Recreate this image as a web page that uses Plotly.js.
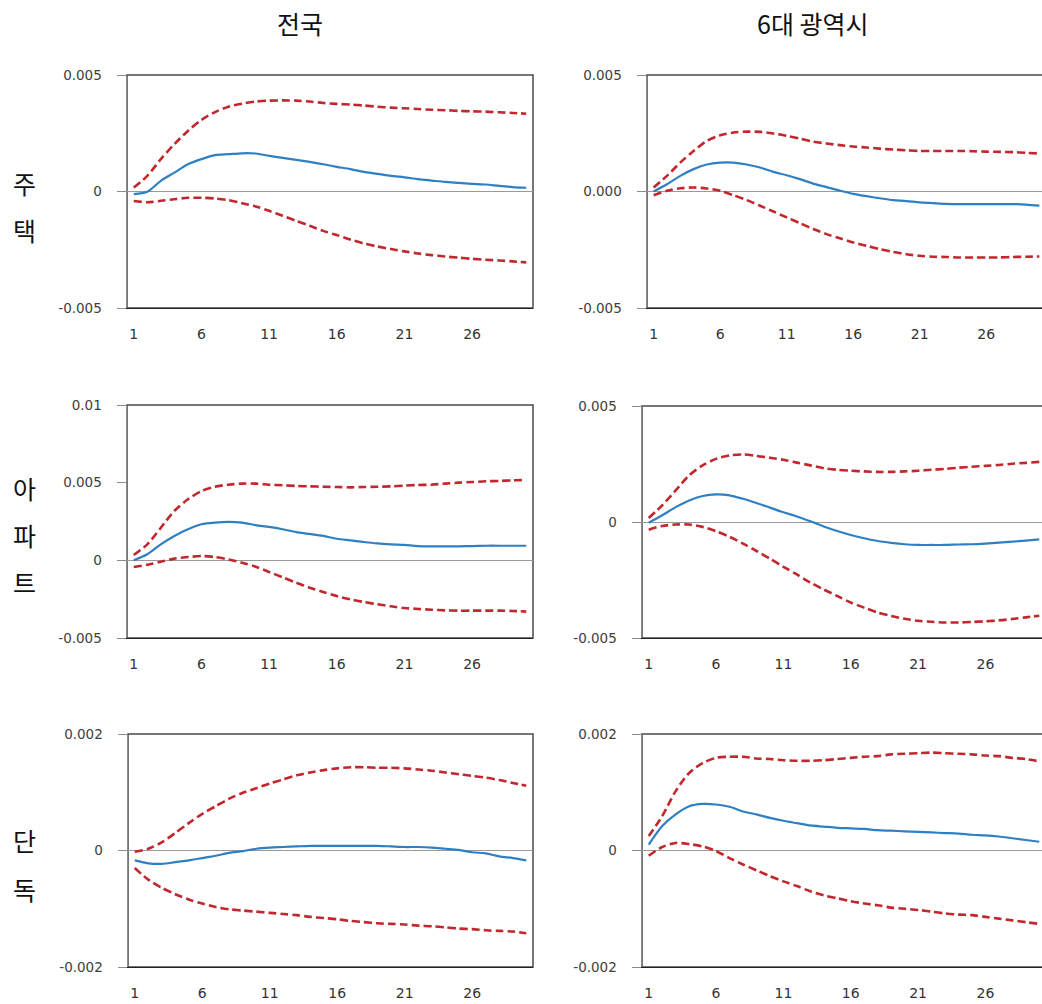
<!DOCTYPE html>
<html>
<head>
<meta charset="utf-8">
<script src="https://cdn.plot.ly/plotly-3.0.1.min.js"></script>
<style>
html,body{margin:0;padding:0;overflow:hidden;background:#fff;}
#chart{width:1048px;height:1004px;}
</style>
</head>
<body>
<div id="chart"></div>
<script>
// ---------- data ----------
const periods = [1,2,3,4,5,6,7,8,9,10,11,12,13,14,15,16,17,18,19,20,21,22,23,24,25,26,27,28,29,30];
const columnTitles = ['전국', '6대 광역시'];
const rowTitles = ['주택', '아파트', '단독'];
const xTickVals = [1, 6, 11, 16, 21, 26];
const xTickText = ['1', '6', '11', '16', '21', '26'];

// 전국 - 주택
const nationHouseUpper = [0.00017,0.00067,0.00139,0.00203,0.0026,0.00307,0.00341,0.00364,0.00377,0.00386,0.0039,0.00391,0.0039,0.00386,0.0038,0.00376,0.00373,0.00369,0.00364,0.0036,0.00357,0.00354,0.00351,0.00349,0.00346,0.00344,0.00343,0.0034,0.00337,0.00334];
const nationHouseMid = [-0.00011,-0.00001,0.00046,0.00081,0.00117,0.00139,0.00156,0.0016,0.00164,0.00163,0.00153,0.00144,0.00136,0.00127,0.00117,0.00106,0.00096,0.00084,0.00076,0.00067,0.00061,0.00053,0.00047,0.00041,0.00037,0.00033,0.0003,0.00024,0.00019,0.00016];
const nationHouseLower = [-0.00041,-0.00046,-0.0004,-0.00033,-0.00027,-0.00027,-0.0003,-0.00037,-0.0005,-0.00064,-0.00083,-0.00104,-0.00126,-0.00147,-0.00169,-0.00187,-0.00206,-0.00223,-0.00236,-0.00247,-0.00257,-0.00266,-0.00273,-0.00279,-0.00284,-0.00289,-0.00293,-0.00296,-0.003,-0.00304];

// 6대 광역시 - 주택
const metroHouseUpper = [0.00017,0.00067,0.00124,0.00174,0.00217,0.00241,0.00253,0.00257,0.00256,0.00249,0.00239,0.00227,0.00214,0.00206,0.00199,0.00193,0.00189,0.00184,0.0018,0.00177,0.00174,0.00174,0.00174,0.00174,0.00173,0.00171,0.0017,0.00169,0.00166,0.00163];
const metroHouseMid = [0,0.00031,0.00067,0.00096,0.00116,0.00124,0.00124,0.00116,0.00103,0.00084,0.0007,0.00053,0.00034,0.00019,0.00004,-0.0001,-0.0002,-0.00029,-0.00037,-0.00041,-0.00047,-0.0005,-0.00053,-0.00054,-0.00054,-0.00054,-0.00054,-0.00054,-0.00056,-0.00061];
const metroHouseLower = [-0.00016,0.00003,0.00014,0.00017,0.00013,0.00003,-0.00016,-0.00037,-0.00061,-0.00086,-0.00111,-0.00136,-0.00161,-0.00183,-0.00201,-0.00219,-0.00233,-0.00247,-0.00259,-0.00269,-0.00276,-0.0028,-0.00281,-0.00283,-0.00283,-0.00283,-0.00283,-0.00281,-0.0028,-0.00279];

// 전국 - 아파트
const nationAptUpper = [0.00034,0.00103,0.0021,0.00318,0.00393,0.00446,0.00474,0.00487,0.00494,0.00494,0.00487,0.00483,0.00479,0.00476,0.00474,0.00472,0.0047,0.00472,0.00474,0.00476,0.00481,0.00485,0.00487,0.00494,0.005,0.00504,0.00509,0.00511,0.00515,0.00517];
const nationAptMid = [0,0.00039,0.00103,0.00157,0.002,0.00232,0.00243,0.00247,0.00243,0.00227,0.00215,0.002,0.00182,0.0017,0.00157,0.00139,0.00129,0.00118,0.00109,0.00103,0.00099,0.00092,0.0009,0.0009,0.0009,0.00092,0.00094,0.00094,0.00094,0.00094];
const nationAptLower = [-0.00043,-0.00028,-0.00009,0.00011,0.00021,0.00028,0.00021,0.00006,-0.00015,-0.00041,-0.00075,-0.00109,-0.00144,-0.00176,-0.00204,-0.0023,-0.00251,-0.00268,-0.00283,-0.00296,-0.00307,-0.00313,-0.00318,-0.00322,-0.00324,-0.00324,-0.00324,-0.00324,-0.00326,-0.0033];

// 6대 광역시 - 아파트
const metroAptUpper = [0.00017,0.00072,0.00136,0.00201,0.00244,0.00272,0.00287,0.00291,0.00285,0.00277,0.00268,0.00256,0.00244,0.00232,0.00225,0.00221,0.00218,0.00216,0.00216,0.00218,0.00221,0.00225,0.00229,0.00234,0.00238,0.00242,0.00246,0.00251,0.00255,0.00259];
const metroAptMid = [-0.00003,0.00029,0.00064,0.00093,0.00112,0.00119,0.00115,0.001,0.00082,0.00062,0.00042,0.00024,0.00003,-0.00019,-0.00039,-0.00056,-0.0007,-0.00082,-0.0009,-0.00096,-0.00099,-0.00099,-0.00099,-0.00097,-0.00096,-0.00093,-0.00089,-0.00085,-0.0008,-0.00075];
const metroAptLower = [-0.00033,-0.00017,-0.00011,-0.00011,-0.00021,-0.0004,-0.00064,-0.00093,-0.00125,-0.00158,-0.00193,-0.00226,-0.00261,-0.00291,-0.00319,-0.00347,-0.00369,-0.0039,-0.00405,-0.00417,-0.00426,-0.0043,-0.00433,-0.00433,-0.00431,-0.00428,-0.00424,-0.00418,-0.00411,-0.00404];

// 전국 - 단독
const nationDetUpper = [-0.00002,0.00003,0.00014,0.0003,0.00047,0.00063,0.00076,0.00089,0.00099,0.00107,0.00115,0.00122,0.00129,0.00134,0.00138,0.00141,0.00143,0.00143,0.00142,0.00142,0.00141,0.00139,0.00137,0.00134,0.00131,0.00128,0.00125,0.00121,0.00116,0.00111];
const nationDetMid = [-0.00017,-0.00022,-0.00023,-0.0002,-0.00017,-0.00013,-0.00009,-0.00004,-0.00001,0.00003,0.00005,0.00006,0.00007,0.00008,0.00008,0.00008,0.00008,0.00008,0.00008,0.00007,0.00006,0.00006,0.00005,0.00003,0.00001,-0.00003,-0.00005,-0.0001,-0.00013,-0.00017];
const nationDetLower = [-0.0003,-0.0005,-0.00064,-0.00075,-0.00084,-0.00091,-0.00097,-0.00101,-0.00103,-0.00105,-0.00107,-0.00109,-0.00111,-0.00114,-0.00116,-0.00118,-0.00121,-0.00123,-0.00125,-0.00126,-0.00127,-0.00129,-0.0013,-0.00132,-0.00134,-0.00135,-0.00137,-0.00138,-0.00139,-0.00142];

// 6대 광역시 - 단독
const metroDetUpper = [0.00025,0.00059,0.00102,0.00133,0.0015,0.00159,0.00161,0.00161,0.00158,0.00157,0.00155,0.00154,0.00154,0.00155,0.00157,0.00159,0.00161,0.00162,0.00165,0.00166,0.00167,0.00168,0.00167,0.00166,0.00165,0.00163,0.00162,0.00159,0.00157,0.00153];
const metroDetMid = [0.0001,0.00042,0.00062,0.00076,0.0008,0.00079,0.00075,0.00067,0.00062,0.00056,0.00051,0.00047,0.00043,0.00041,0.00039,0.00038,0.00037,0.00035,0.00034,0.00033,0.00032,0.00031,0.0003,0.00029,0.00027,0.00026,0.00024,0.00021,0.00018,0.00015];
const metroDetLower = [-0.00009,0.00006,0.00013,0.00011,0.00007,-0.00001,-0.00013,-0.00024,-0.00034,-0.00044,-0.00053,-0.00061,-0.0007,-0.00077,-0.00082,-0.00087,-0.00091,-0.00094,-0.00098,-0.001,-0.00102,-0.00105,-0.00108,-0.0011,-0.00111,-0.00114,-0.00117,-0.0012,-0.00123,-0.00126];

// y tick values and labels per panel
const yTickVals1 = [-0.005, 0, 0.005];
const yTickText1 = ['-0.005', '0', '0.005'];
const yTickVals2 = [-0.005, 0, 0.005];
const yTickText2 = ['-0.005', '0.000', '0.005'];
const yTickVals3 = [-0.005, 0, 0.005, 0.01];
const yTickText3 = ['-0.005', '0', '0.005', '0.01'];
const yTickVals4 = [-0.005, 0, 0.005];
const yTickText4 = ['-0.005', '0', '0.005'];
const yTickVals5 = [-0.002, 0, 0.002];
const yTickText5 = ['-0.002', '0', '0.002'];
const yTickVals6 = [-0.002, 0, 0.002];
const yTickText6 = ['-0.002', '0', '0.002'];

// ---------- layout ----------
const W = 1048, H = 1004;
const panels = [
  {up: nationHouseUpper, mid: nationHouseMid, lo: nationHouseLower, tv: yTickVals1, tt: yTickText1, px: [127, 533], py: [75, 308]},
  {up: metroHouseUpper,  mid: metroHouseMid,  lo: metroHouseLower,  tv: yTickVals2, tt: yTickText2, px: [647, 1046], py: [75, 308]},
  {up: nationAptUpper,   mid: nationAptMid,   lo: nationAptLower,   tv: yTickVals3, tt: yTickText3, px: [127, 533], py: [405, 638]},
  {up: metroAptUpper,    mid: metroAptMid,    lo: metroAptLower,    tv: yTickVals4, tt: yTickText4, px: [642, 1046], py: [406, 638]},
  {up: nationDetUpper,   mid: nationDetMid,   lo: nationDetLower,   tv: yTickVals5, tt: yTickText5, px: [128, 533], py: [734, 967]},
  {up: metroDetUpper,    mid: metroDetMid,    lo: metroDetLower,    tv: yTickVals6, tt: yTickText6, px: [642, 1046], py: [734, 967]}
];

const blue = '#2f7fc4';
const red = '#c1272d';
const traces = [];
const layout = {
  width: W, height: H,
  margin: {l: 0, r: 0, t: 0, b: 0},
  paper_bgcolor: '#ffffff', plot_bgcolor: '#ffffff',
  showlegend: false,
  annotations: [], shapes: []
};

panels.forEach((p, i) => {
  const n = i + 1;
  const xa = n === 1 ? 'x' : 'x' + n;
  const ya = n === 1 ? 'y' : 'y' + n;
  const common = {x: periods, xaxis: xa, yaxis: ya, mode: 'lines', hoverinfo: 'skip'};
  traces.push(Object.assign({}, common, {y: p.up, line: {color: red, width: 2.6, dash: '8px,4px', shape: 'spline', smoothing: 0.8}}));
  traces.push(Object.assign({}, common, {y: p.lo, line: {color: red, width: 2.6, dash: '8px,4px', shape: 'spline', smoothing: 0.8}}));
  traces.push(Object.assign({}, common, {y: p.mid, line: {color: blue, width: 2.2, shape: 'spline', smoothing: 0.8}}));

  layout['xaxis' + (n === 1 ? '' : n)] = {
    domain: [p.px[0] / W, p.px[1] / W],
    anchor: ya,
    range: [0.5, 30.5],
    tickvals: xTickVals, ticktext: xTickText,
    ticks: '', showgrid: false, zeroline: false,
    showline: true, linecolor: '#222', linewidth: 1.2,
    ticklabelstandoff: 13,
    tickfont: {family: 'DejaVu Sans, Verdana, sans-serif', size: 14, color: '#333'}
  };
  layout['yaxis' + (n === 1 ? '' : n)] = {
    domain: [1 - p.py[1] / H, 1 - p.py[0] / H],
    anchor: xa,
    range: [p.tv[0], p.tv[p.tv.length - 1]],
    tickvals: p.tv, ticktext: p.tt,
    ticks: 'outside', ticklen: 9, tickcolor: '#8c8c8c', tickwidth: 1,
    showgrid: false,
    zeroline: true, zerolinecolor: '#9a9a9a', zerolinewidth: 1,
    showline: true, linecolor: '#8c8c8c', linewidth: 1.5,
    ticklabelstandoff: 12,
    tickfont: {family: 'DejaVu Sans, Verdana, sans-serif', size: 13.5, color: '#404040'}
  };
  layout.shapes.push({
    type: 'rect', xref: xa + ' domain', yref: ya + ' domain',
    x0: 0, x1: 1, y0: 0, y1: 1, layer: 'below',
    line: {color: '#4a4a4a', width: 1.5}, fillcolor: 'rgba(0,0,0,0)'
  });
});

// column titles
const colCenters = [300, 812];
columnTitles.forEach((t, i) => {
  layout.annotations.push({
    text: t, xref: 'paper', yref: 'paper',
    x: colCenters[i] / W, y: 1 - 23 / H,
    xanchor: 'center', yanchor: 'middle', showarrow: false,
    font: {family: 'Noto Sans CJK KR', size: 25, color: '#111'}
  });
});

// row titles (written vertically, one syllable per line)
const rowCharY = [[183, 230], [488, 535, 582], [840, 889]];
rowTitles.forEach((t, r) => {
  Array.from(t).forEach((ch, k) => {
    layout.annotations.push({
      text: ch, xref: 'paper', yref: 'paper',
      x: 24 / W, y: 1 - rowCharY[r][k] / H,
      xanchor: 'center', yanchor: 'middle', showarrow: false,
      font: {family: 'Noto Sans CJK KR', size: 25, color: '#111'}
    });
  });
});

Plotly.newPlot('chart', traces, layout, {staticPlot: true, displayModeBar: false});
</script>
</body>
</html>
